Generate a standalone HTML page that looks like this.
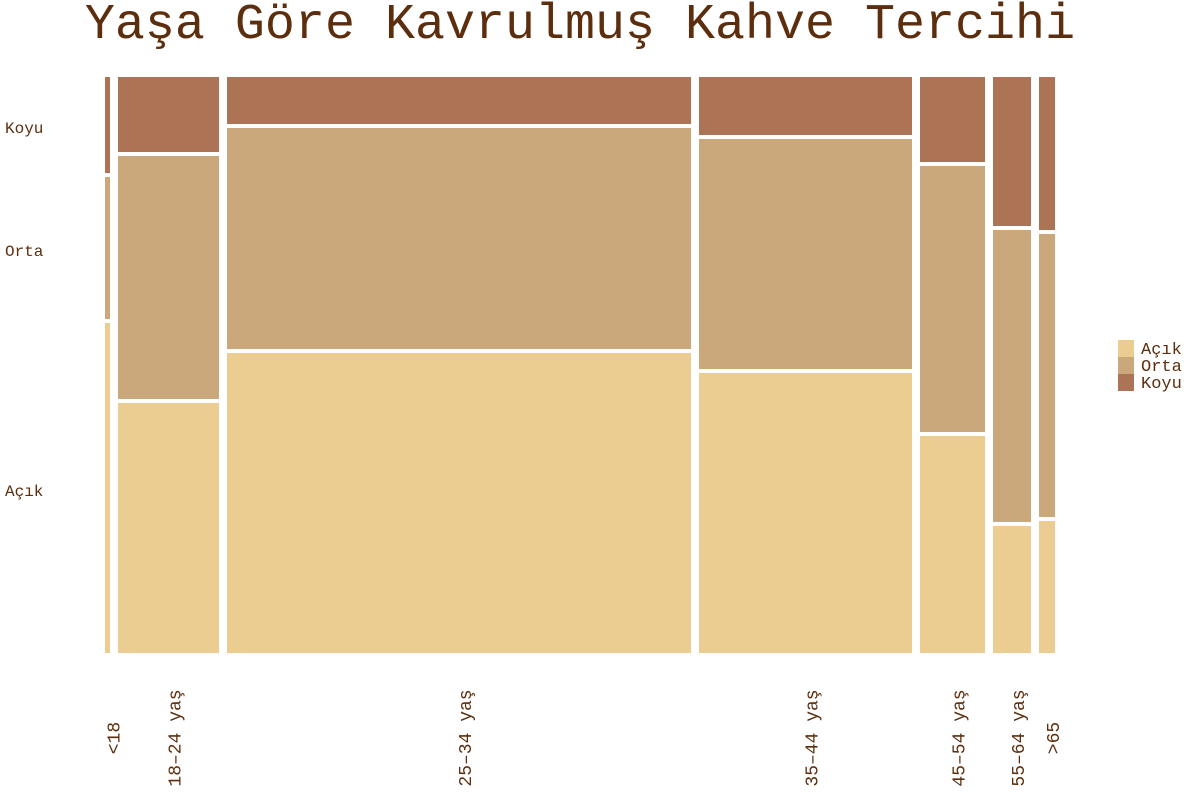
<!DOCTYPE html>
<html><head><meta charset="utf-8"><style>
body{margin:0;background:#fff}
svg text{font-family:"Liberation Mono","DejaVu Sans Mono",monospace;fill:#5c2e0e}
</style></head><body>
<svg id="chart" width="1200" height="800" viewBox="0 0 1200 800">
<text x="580" y="38" font-size="50" text-anchor="middle">Yaşa Göre Kavrulmuş Kahve Tercihi</text>
<g id="plot"></g>
<g id="legend"></g>
</svg>
<script>
const categories = ["<18","18–24 yaş","25–34 yaş","35–44 yaş","45–54 yaş","55–64 yaş",">65"];
const columnCounts = [5,101,464,213,65,38,16];
const seriesNames = ["Açık","Orta","Koyu"];
const acikValues = [330,250,300,280,217,127,132];
const ortaValues = [142,243,221,230,266,292,283];
const koyuValues = [96,75,47,58,85,149,153];
const colors = {"Açık":"#ebcd91","Orta":"#cba87c","Koyu":"#ac7355"};

const NS="http://www.w3.org/2000/svg";
const plot=document.getElementById('plot');
const X0=105, X1=1055, Y0=77, Y1=653, GX=8, GY=4;
const totalCount=columnCounts.reduce((a,b)=>a+b,0);
const availW=(X1-X0)-GX*(categories.length-1);
function xScale(c){return c/totalCount*availW;}
let x=X0;
const series=[acikValues,ortaValues,koyuValues];
const firstMids=[];
categories.forEach((cat,i)=>{
  const w=xScale(columnCounts[i]);
  const tot=series.reduce((s,a)=>s+a[i],0);
  const availH=(Y1-Y0)-GY*(series.length-1);
  let y=Y1;
  series.forEach((arr,k)=>{
    const h=arr[i]/tot*availH;
    const r=document.createElementNS(NS,'rect');
    
    
    r.setAttribute('x',x);r.setAttribute('y',y-h);
    r.setAttribute('width',w);r.setAttribute('height',h);
    r.setAttribute('fill',colors[seriesNames[k]]);
    plot.appendChild(r);
    if(i===0) firstMids.push(y-h/2);
    y-=h+GY;
  });
  const t=document.createElementNS(NS,'text');
  
  
  const cx=x+w/2+12, cy=738;
  t.setAttribute('x',cx);t.setAttribute('y',cy);
  t.setAttribute('font-size','18');
  t.setAttribute('text-anchor','middle');
  t.setAttribute('transform','rotate(-90 '+cx+' '+cy+')');
  t.textContent=cat;
  plot.appendChild(t);
  x+=w+GX;
});
seriesNames.forEach((n,k)=>{
  const t=document.createElementNS(NS,'text');
  
  
  t.setAttribute('x',5);t.setAttribute('y',firstMids[k]+8);
  t.setAttribute('font-size','16');
  t.textContent=n;
  plot.appendChild(t);
});
const lg=document.getElementById('legend');
seriesNames.forEach((n,k)=>{
  const r=document.createElementNS(NS,'rect');
  
  
  r.setAttribute('x',1118);r.setAttribute('y',340+k*17);
  r.setAttribute('width',16);r.setAttribute('height',17);
  r.setAttribute('fill',colors[n]);
  lg.appendChild(r);
  const t=document.createElementNS(NS,'text');
  
  
  t.setAttribute('x',1141);t.setAttribute('y',354+k*17);
  t.setAttribute('font-size','17');
  t.textContent=n;
  lg.appendChild(t);
});
</script>
</body></html>
